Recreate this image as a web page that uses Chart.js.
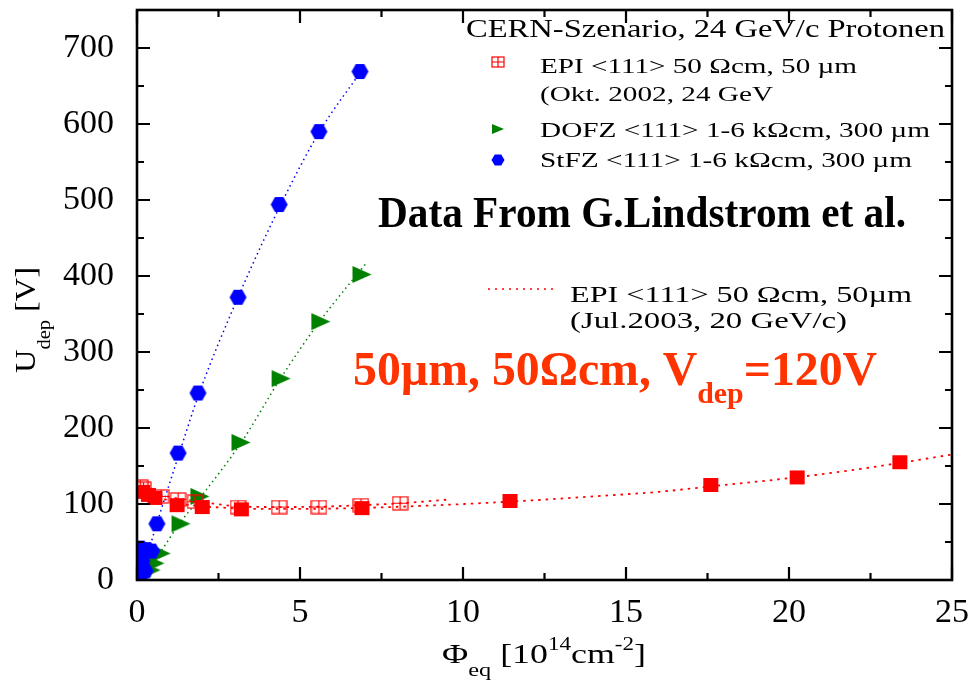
<!DOCTYPE html>
<html>
<head>
<meta charset="utf-8">
<script src="https://cdn.jsdelivr.net/npm/chart.js@4"></script>
<style>
  body { margin: 0; background: #fff; }
  #chart { display: block; }
</style>
</head>
<body>
<canvas id="chart" width="970" height="680"></canvas>
<script>
/* ------------------------------------------------ */
// values: fluence [1e14 cm^-2] and U_dep [V]

let stfzPhi  = [0.1, 0.3, 0.45, 0.15, 0.25, 0.1, 0.61, 1.26, 1.87, 3.10, 4.36, 5.58, 6.84];
let stfzU    = [42, 40, 38, 25, 12, 6, 74, 167, 246, 372, 494, 590, 669];

let dofzPhi  = [0.15, 0.43, 0.55, 0.74, 1.35, 1.93, 3.19, 4.42, 5.64, 6.9];
let dofzU    = [5, 13, 22, 35, 74, 110, 181, 265, 340, 402];

let epiOktPhi = [0.1, 0.2, 0.74, 1.26, 1.78, 3.1, 4.36, 5.58, 6.87, 8.07];
let epiOktU   = [123, 120, 110, 106, 103, 96, 96, 96, 98.5, 101];

let epiJulPhi = [0.18, 0.35, 0.55, 1.23, 2.0, 3.2, 6.9, 11.44, 17.6, 20.25, 23.4];
let epiJulU   = [116, 112, 108, 98.5, 96, 93, 94.6, 104, 125, 135, 155];

// dotted fit curves
let fitStfzPhi = [0.15, 0.3, 0.6, 1.3, 1.9, 3.1, 4.4, 5.6, 6.85];
let fitStfzU   = [8, 30, 73, 167, 245, 372, 493, 590, 668];

let fitDofzPhi = [0.1, 0.4, 0.7, 1.3, 1.95, 3.2, 4.4, 5.6, 7.05];
let fitDofzU   = [3, 15, 35, 74, 109, 181, 265, 340, 418];

let fitOktPhi = [0.7, 1.3, 1.8, 3.1, 4.4, 5.6, 6.9, 8.1, 9.6];
let fitOktU   = [112, 107, 104, 97, 96, 96.5, 98.5, 101, 106];

let fitJulPhi = [0.2, 0.5, 0.8, 1.2, 1.7, 2.5, 3.5, 5, 7, 9, 11.4, 14, 16, 18, 20, 22, 25];
let fitJulU   = [118, 112, 107, 102, 98, 95.5, 93.5, 93.5, 95, 98, 103, 110, 116, 125, 134, 145, 165];

let xTicks = { min: 0, max: 25, step: 2.5, major: 5 };
let yTicks = { min: 0, max: 750, step: 50, major: 100 };

/* ------------------------------------------------ */

const SERIF = '"Liberation Serif", "Times New Roman", serif';
const RED = '#ff0000';
const GREEN = '#008000';
const BLUE = '#0000ff';

function pairs(xs, ys) {
  return xs.map((x, i) => ({ x: x, y: ys[i] }));
}

function hexPath(ctx, cx, cy, w, h) {
  ctx.beginPath();
  ctx.moveTo(cx - w / 2, cy);
  ctx.lineTo(cx - w / 4, cy - h / 2);
  ctx.lineTo(cx + w / 4, cy - h / 2);
  ctx.lineTo(cx + w / 2, cy);
  ctx.lineTo(cx + w / 4, cy + h / 2);
  ctx.lineTo(cx - w / 4, cy + h / 2);
  ctx.closePath();
}

function triPath(ctx, cx, cy, w, h) {
  ctx.beginPath();
  ctx.moveTo(cx - w / 2, cy - h / 2);
  ctx.lineTo(cx + w / 2, cy);
  ctx.lineTo(cx - w / 2, cy + h / 2);
  ctx.closePath();
}

function drawHex(ctx, cx, cy, w, h) {
  hexPath(ctx, cx, cy, w, h);
  ctx.fillStyle = BLUE;
  ctx.fill();
}

function drawTri(ctx, cx, cy, w, h) {
  triPath(ctx, cx, cy, w, h);
  ctx.fillStyle = GREEN;
  ctx.fill();
}

function drawBoxCross(ctx, cx, cy, w, h) {
  ctx.strokeStyle = RED;
  ctx.lineWidth = 1.2;
  ctx.strokeRect(cx - w / 2, cy - h / 2, w, h);
  ctx.beginPath();
  ctx.moveTo(cx, cy - h / 2);
  ctx.lineTo(cx, cy + h / 2);
  ctx.moveTo(cx - w / 2, cy);
  ctx.lineTo(cx + w / 2, cy);
  ctx.stroke();
}

function drawBox(ctx, cx, cy, w, h) {
  ctx.fillStyle = RED;
  ctx.fillRect(cx - w / 2, cy - h / 2, w, h);
}

function makeMarker(w, h, fn) {
  let c = document.createElement('canvas');
  c.width = w + 2;
  c.height = h + 2;
  fn(c.getContext('2d'), c.width / 2, c.height / 2, w, h);
  return c;
}

/* ------------------------------------------------ */
// text with sub/superscripts, stretched horizontally to a target width

function richWidth(ctx, segs) {
  let w = 0;
  segs.forEach((s) => {
    ctx.font = (s.bold ? 'bold ' : '') + s.size + 'px ' + SERIF;
    w += ctx.measureText(s.t).width;
  });
  return w;
}

function drawRich(ctx, segs, x, y, targetW, color, rot) {
  ctx.save();
  ctx.translate(x, y);
  if (rot) ctx.rotate(rot);
  let w = richWidth(ctx, segs);
  if (targetW) ctx.scale(targetW / w, 1);
  ctx.fillStyle = color || '#000';
  ctx.textBaseline = 'alphabetic';
  ctx.textAlign = 'left';
  let cx = 0;
  segs.forEach((s) => {
    ctx.font = (s.bold ? 'bold ' : '') + s.size + 'px ' + SERIF;
    ctx.fillText(s.t, cx, s.dy || 0);
    cx += ctx.measureText(s.t).width;
  });
  ctx.restore();
}

/* ------------------------------------------------ */

let frame = {
  id: 'frame',
  afterDraw(chart) {
    let ctx = chart.ctx;
    let a = chart.chartArea;
    let xs = chart.scales.x;
    let ys = chart.scales.y;
    ctx.save();
    ctx.strokeStyle = '#000';
    ctx.lineWidth = 2.2;
    ctx.beginPath();
    ys.ticks.forEach((t) => {
      let p = ys.getPixelForValue(t.value);
      let len = (t.value % yTicks.major == 0) ? 13 : 7;
      ctx.moveTo(a.left, p); ctx.lineTo(a.left + len, p);
      ctx.moveTo(a.right, p); ctx.lineTo(a.right - len, p);
    });
    xs.ticks.forEach((t) => {
      let p = xs.getPixelForValue(t.value);
      let len = (t.value % xTicks.major == 0) ? 13 : 7;
      ctx.moveTo(p, a.bottom); ctx.lineTo(p, a.bottom - len);
      ctx.moveTo(p, a.top); ctx.lineTo(p, a.top + len);
    });
    ctx.stroke();
    ctx.lineWidth = 2.6;
    ctx.strokeRect(a.left, a.top, a.right - a.left, a.bottom - a.top);
    ctx.restore();
  }
};

let notes = {
  id: 'notes',
  afterDraw(chart) {
    let ctx = chart.ctx;

    // legend box, upper right
    drawRich(ctx, [{ t: 'CERN-Szenario, 24 GeV/c Protonen', size: 26 }], 466, 37, 479);
    drawBoxCross(ctx, 498, 62, 12, 10);
    drawRich(ctx, [{ t: 'EPI <111> 50 \u03A9cm, 50 \u00B5m', size: 22 }], 540, 73, 317);
    drawRich(ctx, [{ t: '(Okt. 2002, 24 GeV', size: 22 }], 540, 101, 233);
    drawTri(ctx, 498, 129, 12, 10);
    drawRich(ctx, [{ t: 'DOFZ <111> 1-6 k\u03A9cm, 300 \u00B5m', size: 22 }], 540, 137, 390);
    drawHex(ctx, 498, 160, 13, 11);
    drawRich(ctx, [{ t: 'StFZ <111> 1-6 k\u03A9cm, 300 \u00B5m', size: 22 }], 540, 167, 372);

    drawRich(ctx, [{ t: 'Data From G.Lindstrom et al.', size: 44, bold: true }], 378, 227, 528);

    // second legend entry: dotted fit line
    ctx.save();
    ctx.strokeStyle = RED;
    ctx.lineWidth = 1.5;
    ctx.setLineDash([2, 5]);
    ctx.beginPath();
    ctx.moveTo(488, 289);
    ctx.lineTo(558, 289);
    ctx.stroke();
    ctx.restore();
    drawRich(ctx, [{ t: 'EPI <111> 50 \u03A9cm, 50\u00B5m', size: 23 }], 570, 302, 342);
    drawRich(ctx, [{ t: '(Jul.2003, 20 GeV/c)', size: 23 }], 570, 328, 277);

    drawRich(ctx, [
      { t: '50\u00B5m, 50\u03A9cm, V', size: 48, bold: true },
      { t: 'dep', size: 30, bold: true, dy: 18 },
      { t: '=120V', size: 48, bold: true },
    ], 353, 385, 524, '#ff3300');

    // axis titles
    drawRich(ctx, [
      { t: 'U', size: 30 },
      { t: 'dep', size: 19, dy: 15 },
      { t: ' [V]', size: 30 },
    ], 35, 373, 106, '#000', -Math.PI / 2);

    drawRich(ctx, [
      { t: '\u03A6', size: 28 },
      { t: 'eq', size: 19, dy: 13 },
      { t: ' [10', size: 28 },
      { t: '14', size: 18, dy: -13 },
      { t: 'cm', size: 28 },
      { t: '-2', size: 18, dy: -13 },
      { t: ']', size: 28 },
    ], 442, 663, 204);
  }
};

/* ------------------------------------------------ */

function generateChart() {

  let hexImg = makeMarker(17, 15, drawHex);
  let triImg = makeMarker(19, 17, drawTri);
  let boxCrossImg = makeMarker(15, 13, drawBoxCross);
  let boxImg = makeMarker(15, 14, drawBox);

  let fit = (xs, ys, color, dash, width, order) => ({
    data: pairs(xs, ys),
    showLine: true,
    pointRadius: 0,
    borderColor: color,
    borderWidth: width,
    borderDash: dash,
    cubicInterpolationMode: 'monotone',
    order: order,
    clip: 0,
  });

  let marks = (xs, ys, img, order) => ({
    data: pairs(xs, ys),
    showLine: false,
    pointStyle: img,
    pointRadius: 9,
    order: order,
    clip: 0,
  });

  let datasets = [
    marks(stfzPhi, stfzU, hexImg, 1),
    marks(epiJulPhi, epiJulU, boxImg, 2),
    marks(epiOktPhi, epiOktU, boxCrossImg, 3),
    marks(dofzPhi, dofzU, triImg, 4),
    fit(fitStfzPhi, fitStfzU, BLUE, [1.5, 3.5], 1.5, 5),
    fit(fitDofzPhi, fitDofzU, GREEN, [1.5, 3.5], 1.5, 6),
    fit(fitOktPhi, fitOktU, RED, [2.5, 5], 1.8, 7),
    fit(fitJulPhi, fitJulU, RED, [2.5, 5], 1.8, 8),
  ];

  let tickFont = { family: SERIF, size: 34 };

  let config = {
    type: 'scatter',
    data: { datasets: datasets },
    options: {
      responsive: false,
      animation: false,
      devicePixelRatio: 1,
      layout: { padding: { left: 0, top: 10, right: 18, bottom: 0 } },
      plugins: {
        legend: { display: false },
        tooltip: { enabled: false },
      },
      scales: {
        x: {
          type: 'linear',
          min: xTicks.min,
          max: xTicks.max,
          grid: { display: false },
          border: { display: false },
          ticks: {
            stepSize: xTicks.step,
            autoSkip: false,
            maxRotation: 0,
            padding: 5,
            color: '#000',
            font: tickFont,
            callback: (v) => (v % xTicks.major == 0 ? v : ''),
          },
          afterFit: (s) => {
            s.height = 100;
            s.paddingLeft = 0;
            s.paddingRight = 0;
          },
        },
        y: {
          type: 'linear',
          min: yTicks.min,
          max: yTicks.max,
          grid: { display: false },
          border: { display: false },
          ticks: {
            stepSize: yTicks.step,
            autoSkip: false,
            padding: 15,
            color: '#000',
            font: tickFont,
            callback: (v) => (v % yTicks.major == 0 ? v : ''),
          },
          afterFit: (s) => {
            s.width = 137;
            s.paddingTop = 0;
            s.paddingBottom = 0;
          },
        },
      },
    },
    plugins: [frame, notes],
  };

  return new Chart(document.getElementById('chart').getContext('2d'), config);
}

let chart = generateChart();
</script>
</body>
</html>
